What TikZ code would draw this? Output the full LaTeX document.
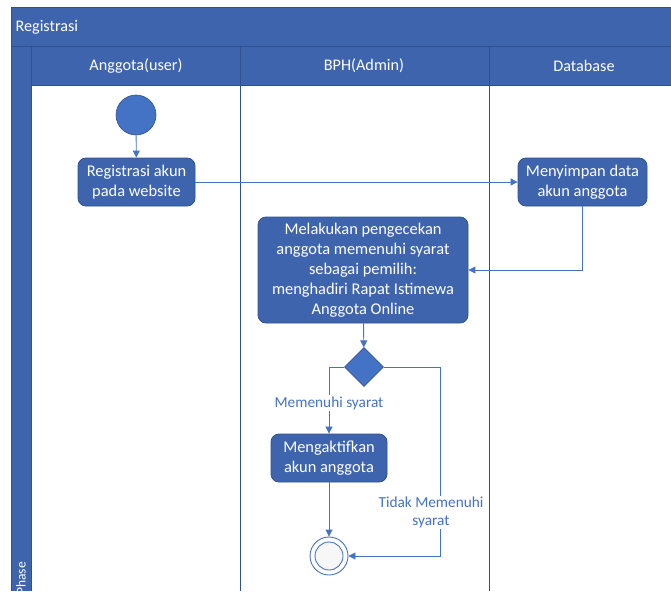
\documentclass[tikz,border=0pt]{standalone}
\usepackage{fontspec}
\setmainfont{Carlito}
\usetikzlibrary{arrows.meta,shapes.geometric}
\definecolor{hdr}{RGB}{62,100,174}
\definecolor{bord}{RGB}{47,82,143}
\definecolor{acc}{RGB}{68,114,196}
\begin{document}
\begin{tikzpicture}[x=1pt,y=-1pt,
  act/.style={draw=bord, fill=hdr, rounded corners=8pt, text=white, align=center,
    font=\fontsize{16.4}{20}\selectfont, line width=0.8pt, inner sep=2pt},
  flow/.style={draw=acc, line width=0.9pt, -{Triangle[length=7pt,width=7pt]}},
  lbl/.style={text=acc, fill=white, font=\fontsize{15.3}{18.5}\selectfont, align=center, inner sep=1pt},
  hdrtxt/.style={text=white, font=\fontsize{16.2}{19}\selectfont},
  lane/.style={draw=bord, line width=0.9pt}
]
\useasboundingbox (0,0) rectangle (671,591);
% pool background
\fill[hdr] (11,7) rectangle (671,85);
\fill[hdr] (11,85) rectangle (31,591);
\draw[lane] (11,591) -- (11,7) -- (671,7);
\draw[lane] (11,46) -- (671,46);
\draw[lane] (31,85) -- (671,85);
\draw[lane] (31,46) -- (31,591);
\draw[lane] (240,46) -- (240,591);
\draw[lane] (489,46) -- (489,591);
\node[hdrtxt, anchor=west] (title) at (12,27) {Registrasi};
\node[hdrtxt] (h1) at (136,66) {Anggota(user)};
\node[hdrtxt] (h2) at (364,66) {BPH(Admin)};
\node[hdrtxt] (h3) at (584,66) {Database};
\node[hdrtxt, rotate=90, anchor=east, inner sep=1pt, font=\fontsize{13.5}{16}\selectfont] (phase) at (21,561) {Phase};
% nodes
\node[circle, fill=acc, draw=bord, line width=0.6pt, minimum size=40, inner sep=0] (start) at (136,115) {};
\node[act, minimum width=117, minimum height=48] (reg) at (136.5,182) {Registrasi akun\\pada website};
\node[act, minimum width=129, minimum height=48] (simpan) at (582.5,182) {Menyimpan data\\akun anggota};
\node[act, minimum width=210, minimum height=106] (cek) at (363,270) {Melakukan pengecekan\\anggota memenuhi syarat\\sebagai pemilih:\\menghadiri Rapat Istimewa\\Anggota Online};
\node[diamond, draw=bord, fill=acc, line width=0.6pt, minimum width=39, minimum height=39, inner sep=0] (dec) at (364,367) {};
\node[act, minimum width=116, minimum height=48] (akt) at (329,458) {Mengaktifkan\\akun anggota};
\node[circle, draw=acc, line width=0.9pt, minimum size=38, inner sep=0] (end) at (329,556) {};
\node[circle, draw=acc, fill=black!3, line width=0.9pt, minimum size=28, inner sep=0] (endin) at (329,556) {};
\coordinate (r1) at (440,367);
\coordinate (r2) at (440,556);
% connectors
\draw[flow] (start) -- (reg);
\draw[flow] (reg) -- (simpan);
\draw[flow] (simpan.south) |- (cek.east);
\draw[flow] (cek) -- (dec);
\draw[flow] (dec.west) -| node[lbl, pos=0.77] {Memenuhi syarat} (akt.north);
\draw[flow] (dec.east) -- (r1) -- node[lbl, pos=0.77, xshift=-9pt] {Tidak Memenuhi\\syarat} (r2) -- (end.east);
\draw[flow] (akt) -- (end);
\end{tikzpicture}
\end{document}
